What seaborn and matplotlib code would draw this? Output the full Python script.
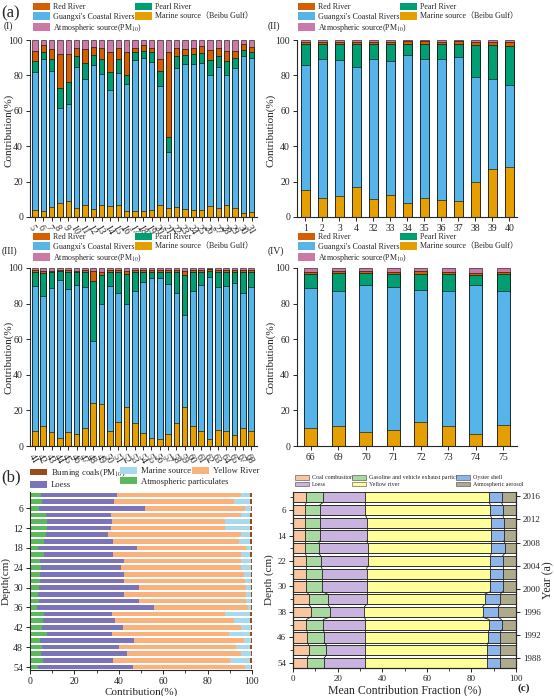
import numpy as np
import pandas as pd
import matplotlib
matplotlib.use("Agg")
import matplotlib.pyplot as plt
from matplotlib.patches import Patch
from matplotlib.ticker import MultipleLocator, FixedLocator
import seaborn as sns

# ---------------- DATA ----------------
# Panel (a) sources (stack order bottom -> top)
a_sources = ["Marine source（Beibu Gulf）", "Guangxi's Coastal Rivers", "Pearl River",
             "Red River", "Atmospheric source(PM$_{10}$)"]

# Panel I
p1_labels = [str(v) for v in range(5, 32)]
p1_marine = [4, 3.5, 5.5, 8, 9, 5, 7, 4.5, 6.5, 6, 7, 3.5, 3.5, 3.5, 4, 6.5, 5, 5.5, 4.5, 4, 4, 6, 5, 6.5, 5, 2.5, 3]
p1_gcr = [78, 85.5, 77, 53.5, 55, 80, 71, 81.5, 74.5, 66, 74.5, 71.5, 85, 86.5, 83.5, 67.5, 32, 78.5, 82, 82.5, 83, 74.5, 79.5, 73.5, 79, 88.5, 87]
p1_pearl = [6, 4.5, 7, 11.5, 12, 6, 9, 5.5, 8, 10, 7.5, 5.5, 4.5, 4, 5.5, 8.5, 8, 7, 5, 5.5, 5.5, 8, 6.5, 8, 6, 3.5, 3.5]
p1_red = [6, 3.5, 5.5, 19, 16, 4.5, 8, 4.5, 6.5, 11.5, 6.5, 12.5, 2.5, 3, 2.5, 6.5, 48.5, 4.5, 3.5, 3.5, 4, 6, 4.5, 6, 4, 3, 2.5]
p1_atm = [6, 3, 5, 8, 8, 4.5, 5, 4, 4.5, 6.5, 4.5, 7, 4.5, 3, 4.5, 11, 6.5, 4.5, 5, 4.5, 3.5, 5.5, 4.5, 6, 6, 2.5, 4]

# Panel II
p2_labels = ["1", "2", "3", "4", "32", "33", "34", "35", "36", "37", "38", "39", "40"]
p2_marine = [15, 10.5, 12, 17, 10, 12.5, 8, 11, 9.5, 9, 19.5, 27, 28.5]
p2_gcr = [71, 79, 76.5, 67.5, 79, 75.5, 83.5, 78, 80, 81.5, 59.5, 51, 46]
p2_pearl = [11.5, 8, 9, 13, 8.5, 9.5, 6.5, 9, 8, 7.5, 18, 19, 22]
p2_red = [1.5, 1.5, 1.5, 1.5, 1.5, 1.5, 1.5, 1.5, 1.5, 1.5, 2, 2, 2.5]
p2_atm = [1, 1, 1, 1, 1, 1, 0.5, 0.5, 1, 0.5, 1, 1, 1]

# Panel III
p3_labels = [str(v) for v in list(range(41, 66)) + [67, 68]]
p3_marine = [8.5, 11, 8, 4.5, 8, 6.5, 10, 24, 23.5, 8.5, 13.5, 22, 13, 7.5, 4.5, 4, 7, 13, 22, 11.5, 8.5, 4, 9, 8.5, 6, 10, 8.5]
p3_gcr = [81.5, 73.5, 81, 88.5, 80, 84, 79.5, 35, 56.5, 81.5, 72.5, 58, 74, 84.5, 90, 90.5, 84, 73, 51.5, 75.5, 82, 91, 80.5, 81.5, 85.5, 76, 81]
p3_pearl = [8, 12.5, 8.5, 5.5, 9.5, 7, 8, 33.5, 16, 8, 11.5, 16.5, 11, 6, 3.5, 3.5, 7, 11.5, 22.5, 11, 7.5, 3.5, 8.5, 8, 6.5, 11.5, 8.5]
p3_red = [1, 1.5, 1, 0.5, 1.5, 1, 1.5, 6, 2, 1, 1.5, 2, 1, 1, 1, 1, 1, 1.5, 2.5, 1, 1, 1, 1, 1, 1, 1.5, 1]
p3_atm = [1, 1.5, 1.5, 1, 1, 1.5, 1, 1.5, 2, 1, 1, 1.5, 1, 1, 1, 1, 1, 1, 1.5, 1, 1, 0.5, 1, 1, 1, 1, 1]

# Panel IV
p4_labels = ["66", "69", "70", "71", "72", "73", "74", "75"]
p4_marine = [10, 11, 8, 9, 13.5, 11, 7, 12]
p4_gcr = [78.5, 76, 82.5, 80.5, 74, 76, 83.5, 75]
p4_pearl = [8, 10, 6.5, 7, 9, 9.5, 5.5, 9.5]
p4_red = [1.5, 1.5, 1.5, 1.5, 2, 1.5, 1, 1.5]
p4_atm = [2, 1.5, 1.5, 2, 1.5, 2, 3, 2]

# Panel (b) (stack order left -> right)
b_depths = [str(v) for v in range(2, 56, 2)]
b_atm = [5, 5.5, 4, 7, 7.5, 7.5, 7, 6.5, 3.5, 6.5, 4.5, 5, 4.5, 4.5, 4, 3.5, 4, 3, 6.5, 6, 5.5, 7.5, 4.5, 5.5, 5, 6, 3.5]
b_loess = [34, 32.5, 48, 29.5, 29.5, 29, 28, 31, 44.5, 31, 38, 36, 38, 38, 45, 39, 45, 53, 30.5, 32.5, 36.5, 29.5, 42.5, 34.5, 38.5, 31.5, 43]
b_yellow = [56, 54, 45, 58.5, 51, 51.5, 60, 56.5, 49.5, 57.5, 52.5, 54, 54, 54.5, 48.5, 55, 48.5, 42, 51, 53.5, 53, 52.5, 49.5, 53, 51.5, 52.5, 50.5]
b_marine = [4, 7, 2.5, 4, 11, 11, 4, 5, 2, 4, 4.5, 4.5, 3, 2.5, 2, 2, 2, 1.5, 11, 7, 4.5, 9.5, 3, 6, 4.5, 9, 2.5]
b_coal = [1, 1, 0.5, 1, 1, 1, 1, 1, 0.5, 1, 0.5, 0.5, 0.5, 0.5, 0.5, 0.5, 0.5, 0.5, 1, 1, 0.5, 1, 0.5, 1, 0.5, 1, 0.5]

# Panel (c)
c_depths = [str(v) for v in range(2, 56, 4)]
c_coal = [6, 5.5, 5.5, 5.5, 5.5, 6, 6, 6, 7, 8, 6, 6.5, 7, 6.5]
c_gas = [7.5, 6.5, 6.5, 6.5, 6, 6.5, 7, 7, 8.5, 8.5, 7.5, 7.5, 8, 7.5]
c_loess = [19, 20.5, 21, 21, 22, 21, 20, 20, 17.5, 15.5, 19, 18.5, 17.5, 18.5]
c_yellow = [55.5, 56, 56, 56, 55.5, 55, 55.5, 55.5, 53, 53, 55.5, 55, 54.5, 54.5]
c_oyster = [5.5, 5.5, 5.5, 5.5, 6, 5.5, 5.5, 5.5, 7, 7, 5.5, 5.5, 6, 6]
c_aerosol = [6.5, 6, 5.5, 5.5, 5, 6, 6, 6, 7, 8, 6.5, 7, 7, 7]
c_years = [2016, 2012, 2008, 2004, 2000, 1996, 1992, 1988]
c_year_depths = [1.5, 8.9, 16.2, 23.5, 30.7, 38.0, 45.2, 52.6]

# ---------------- STYLE ----------------
sns.set_style("ticks")
plt.rcParams["font.family"] = ["Liberation Serif", "Noto Sans CJK SC"]
plt.rcParams["mathtext.fontset"] = "stix"
plt.rcParams["axes.linewidth"] = 0.8

a_colors = ["#E69F00", "#56B4E9", "#009E73", "#D55E00", "#CC79A7"]
b_names = ["Atmospheric particulates", "Loess", "Yellow River", "Marine source", "Burning coals(PM$_{10}$)"]
b_colors = ["#5cb85c", "#7b74b9", "#f9b27c", "#a9d9ec", "#9c4a1a"]
c_names = ["Coal combustion", "Gasoline and vehicle exhaust particle", "Loess", "Yellow river",
           "Oyster shell", "Atmospheric aerosol"]
c_colors = ["#f8c6a0", "#a8d9a0", "#c8b4df", "#ffff99", "#8fb4ea", "#aeab8c"]

W, H = 554, 696
fig = plt.figure(figsize=(W / 100, H / 100), dpi=100)


def fr(x, y, w, h):
    return [x / W, 1 - (y + h) / H, w / W, h / H]


def stacked(ax, labels, comps, colors, width, horizontal=False, edge="black", lw=0.4):
    df = pd.DataFrame(np.array(comps).T, index=labels)
    cum = df.cumsum(axis=1)
    for j in reversed(range(cum.shape[1])):
        if horizontal:
            sns.barplot(y=labels, x=cum[j].values, color=colors[j], width=width, orient="h",
                        edgecolor=edge, linewidth=lw, saturation=1, ax=ax)
        else:
            sns.barplot(x=labels, y=cum[j].values, color=colors[j], width=width,
                        edgecolor=edge, linewidth=lw, saturation=1, ax=ax)
    return cum


def col_legend(x, y, names, colors, fs, hl, hh, ls, edge="none", elw=0.0):
    handles = [Patch(facecolor=c, edgecolor=edge, linewidth=elw) for c in colors]
    fig.legend(handles, names, loc="upper left", bbox_to_anchor=(x / W, 1 - y / H), ncol=1,
               frameon=False, fontsize=fs, handlelength=hl, handleheight=hh,
               labelspacing=ls, handletextpad=0.4, borderpad=0, borderaxespad=0)


def a_legend(x1, x2, y):
    col_legend(x1, y, [a_sources[3], a_sources[1], a_sources[4]],
               [a_colors[3], a_colors[1], a_colors[4]], 5.8, 2.1, 1.0, 0.12)
    col_legend(x2, y, [a_sources[2], a_sources[0]], [a_colors[2], a_colors[0]], 5.8, 2.1, 1.0, 0.12)


def style_a(ax, xlim, rot, label_pos):
    ax.set_ylim(0, 100)
    ax.set_xlim(*xlim)
    ax.yaxis.set_major_locator(MultipleLocator(20))
    ax.tick_params(axis="both", labelsize=7, length=3, width=0.7, pad=2)
    sns.despine(ax=ax)
    ax.set_xlabel("")
    ax.set_ylabel("")
    if rot:
        for t in ax.get_xticklabels():
            t.set_rotation(-60)
            t.set_ha("left")
            t.set_va("top")
            t.set_rotation_mode("anchor")
    fig.text(label_pos[0] / W, 1 - label_pos[1] / H, "Contribution(%)", rotation=90,
             ha="center", va="center", fontsize=8)


# Panel I
ax1 = fig.add_axes(fr(30, 40, 227, 177))
stacked(ax1, p1_labels, [p1_marine, p1_gcr, p1_pearl, p1_red, p1_atm], a_colors, 0.66)
style_a(ax1, (-0.6, 26.65), True, (9, 130))
a_legend(33, 135, 3)

# Panel II
ax2 = fig.add_axes(fr(297, 40, 220, 177))
stacked(ax2, p2_labels, [p2_marine, p2_gcr, p2_pearl, p2_red, p2_atm], a_colors, 0.55)
style_a(ax2, (-0.5, 12.45), False, (271, 130))
a_legend(298, 400, 3)

# Panel III
ax3 = fig.add_axes(fr(30, 268, 227, 178))
stacked(ax3, p3_labels, [p3_marine, p3_gcr, p3_pearl, p3_red, p3_atm], a_colors, 0.68)
style_a(ax3, (-0.6, 26.7), True, (9, 357))
a_legend(33, 135, 233)

# Panel IV
ax4 = fig.add_axes(fr(297, 268, 220, 178))
stacked(ax4, p4_labels, [p4_marine, p4_gcr, p4_pearl, p4_red, p4_atm], a_colors, 0.48)
style_a(ax4, (-0.5, 7.5), False, (271, 357))
a_legend(298, 400, 233)

# Panel labels
fig.text(1 / W, 1 - 13 / H, "(a)", fontsize=12, ha="left", va="center")
fig.text(4 / W, 1 - 26 / H, "(I)", fontsize=7, ha="left", va="center")
fig.text(268 / W, 1 - 26 / H, "(II)", fontsize=7, ha="left", va="center")
fig.text(2 / W, 1 - 251 / H, "(III)", fontsize=7, ha="left", va="center")
fig.text(268 / W, 1 - 251 / H, "(IV)", fontsize=7, ha="left", va="center")
fig.text(1 / W, 1 - 477 / H, "(b)", fontsize=12, ha="left", va="center")

# Panel (b)
axb = fig.add_axes(fr(30, 492, 222, 178))
stacked(axb, b_depths, [b_atm, b_loess, b_yellow, b_marine, b_coal], b_colors, 0.7,
        horizontal=True, edge="none", lw=0)
axb.set_xlim(0, 100)
axb.set_ylim(26.45, -0.45)
axb.xaxis.set_major_locator(MultipleLocator(20))
axb.xaxis.set_minor_locator(MultipleLocator(10))
axb.set_yticks(range(2, 27, 3))
axb.set_yticklabels([b_depths[i] for i in range(2, 27, 3)])
axb.tick_params(axis="both", labelsize=7, length=3, width=0.7, pad=2)
axb.tick_params(axis="x", which="minor", length=2, width=0.6)
sns.despine(ax=axb)
axb.set_xlabel("Contribution(%)", fontsize=8, labelpad=1)
axb.set_ylabel("Depth(cm)", fontsize=8, labelpad=2)
col_legend(30, 467, [b_names[4], b_names[1]], [b_colors[4], b_colors[1]], 6.2, 2.0, 0.8, 0.25)
col_legend(120, 467, [b_names[3], b_names[0]], [b_colors[3], b_colors[0]], 6.2, 2.0, 0.8, 0.25)
col_legend(192, 467, [b_names[2]], [b_colors[2]], 6.2, 2.0, 0.8, 0.25)

# Panel (c)
axc = fig.add_axes(fr(293, 492, 223, 176))
c_h = 0.8
c_cum = stacked(axc, c_depths, [c_coal, c_gas, c_loess, c_yellow, c_oyster, c_aerosol], c_colors, c_h,
                horizontal=True, edge="#222222", lw=0.6)
# connect lines between neighbouring bars (segment boundaries)
for j in range(c_cum.shape[1] - 1):
    vals = c_cum[j].values
    for i in range(len(vals) - 1):
        axc.plot([vals[i], vals[i + 1]], [i + c_h / 2, i + 1 - c_h / 2], color="#222222", lw=0.6)
axc.set_xlim(0, 100)
axc.set_ylim(13.4, -0.42)
axc.xaxis.set_major_locator(MultipleLocator(20))
axc.xaxis.set_minor_locator(MultipleLocator(10))
axc.set_yticks(range(1, 14, 2))
axc.set_yticklabels([c_depths[i] for i in range(1, 14, 2)])
axc.yaxis.set_minor_locator(FixedLocator(range(0, 14, 2)))
axc.tick_params(axis="both", labelsize=6.5, length=3, width=0.7, pad=2)
axc.tick_params(axis="both", which="minor", length=2, width=0.6)
axc.spines["top"].set_visible(False)
axc.set_xlabel("Mean Contribution Fraction (%)", fontsize=8.5, labelpad=1)
axc.set_ylabel("Depth (cm)", fontsize=8, labelpad=2)
axy = axc.twinx()
axy.set_ylim((13.4 * 4) + 2, (-0.42 * 4) + 2)
axy.set_yticks(c_year_depths)
axy.set_yticklabels([str(y) for y in c_years])
axy.tick_params(axis="y", labelsize=6.5, length=3, width=0.7, pad=2)
axy.spines["top"].set_visible(False)
axy.set_ylabel("Year (a)", fontsize=8.5, labelpad=1)
col_legend(295, 475, [c_names[0], c_names[2]], [c_colors[0], c_colors[2]], 4.3, 2.4, 0.8, 0.2, "#444444", 0.4)
col_legend(352, 475, [c_names[1], c_names[3]], [c_colors[1], c_colors[3]], 4.3, 2.4, 0.8, 0.2, "#444444", 0.4)
col_legend(456, 475, [c_names[4], c_names[5]], [c_colors[4], c_colors[5]], 4.3, 2.4, 0.8, 0.2, "#444444", 0.4)
fig.text(524 / W, 1 - 688 / H, "(c)", fontsize=8, fontweight="bold", ha="center", va="center")

fig.savefig("out.png", dpi=100)
